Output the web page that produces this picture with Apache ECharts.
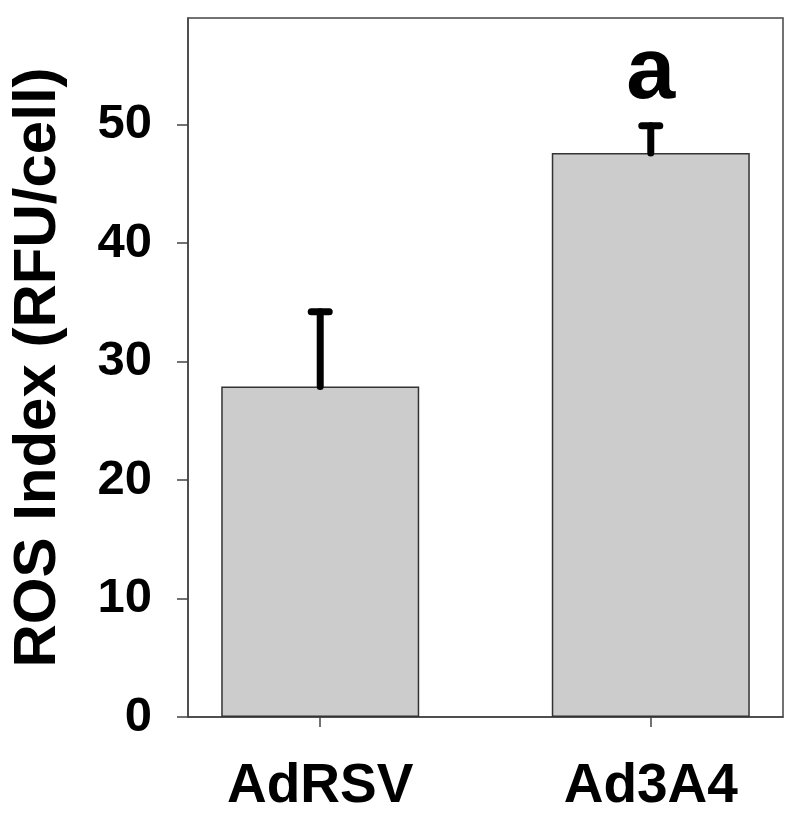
<!DOCTYPE html>
<html>
<head>
<meta charset="utf-8">
<script src="https://cdn.jsdelivr.net/npm/echarts@6/dist/echarts.min.js"></script>
<style>html,body{margin:0;padding:0;background:#fff;}#chart{width:800px;height:823px;}</style>
</head>
<body>
<div id="chart"></div>
<script>
const categories = ['AdRSV', 'Ad3A4'];
const means = [27.9, 47.6];
const errors = [6.3, 2.3];
const sigLabels = ['', 'a'];
const yTicks = [0, 10, 20, 30, 40, 50];

const FONT = "'Liberation Sans', Arial, Helvetica, sans-serif";
const chart = echarts.init(document.getElementById('chart'));

const barData = means.map((v, i) => [i, v]);
const errData = means.map((v, i) => [i, v, v + errors[i], sigLabels[i]]);

chart.setOption({
  animation: false,
  backgroundColor: '#fff',
  grid: { left: 188, right: 17, top: 18, bottom: 106, outerBoundsMode: 'none', containLabel: false,
    show: true, borderColor: '#444', borderWidth: 1.5, backgroundColor: 'transparent' },
  xAxis: {
    type: 'value', min: -0.4, max: 1.4,
    splitLine: { show: false },
    axisLine: { show: true, onZero: false, lineStyle: { color: '#444', width: 1.5 } },
    axisTick: { show: true, inside: false, length: 10, customValues: [0, 1], lineStyle: { color: '#444', width: 1.5 } },
    axisLabel: { customValues: [0, 1], margin: 42, fontSize: 55, fontWeight: 'bold', color: '#000', fontFamily: FONT,
      formatter: v => categories[Math.round(v)] || '' }
  },
  yAxis: {
    type: 'value', min: 0, max: 59, interval: 10,
    name: 'ROS Index (RFU/cell)', nameLocation: 'middle', nameGap: 120,
    nameTextStyle: { fontSize: 60, fontWeight: 'bold', color: '#000', fontFamily: FONT },
    splitLine: { show: false },
    axisLine: { show: true, onZero: false, lineStyle: { color: '#444', width: 1.5 } },
    axisTick: { show: true, inside: false, length: 11, customValues: yTicks, lineStyle: { color: '#444', width: 1.5 } },
    axisLabel: { customValues: yTicks, margin: 36, fontSize: 49, fontWeight: 'bold', color: '#000', fontFamily: FONT }
  },
  series: [
    {
      type: 'bar', data: barData, barWidth: 198,
      itemStyle: { color: '#cccccc', borderColor: '#333', borderWidth: 1.5 },
      z: 2
    },
    {
      type: 'custom', data: errData, z: 3,
      renderItem: function (params, api) {
        const x = api.value(0);
        const base = api.coord([x, api.value(1)]);
        const top = api.coord([x, api.value(2)]);
        const half = 9;
        const style = { stroke: '#000', lineWidth: 7, lineCap: 'round' };
        const children = [
          { type: 'line', shape: { x1: base[0], y1: base[1], x2: top[0], y2: top[1] }, style: style },
          { type: 'line', shape: { x1: top[0] - half, y1: top[1], x2: top[0] + half, y2: top[1] }, style: style }
        ];
        const lab = sigLabels[params.dataIndex];
        if (lab) {
          children.push({ type: 'text', x: top[0], y: top[1] - 52,
            style: { text: lab, fill: '#000', fontSize: 88, fontWeight: 'bold', fontFamily: FONT, align: 'center', verticalAlign: 'middle' } });
        }
        return { type: 'group', children: children };
      }
    }
  ]
});
</script>
</body>
</html>
